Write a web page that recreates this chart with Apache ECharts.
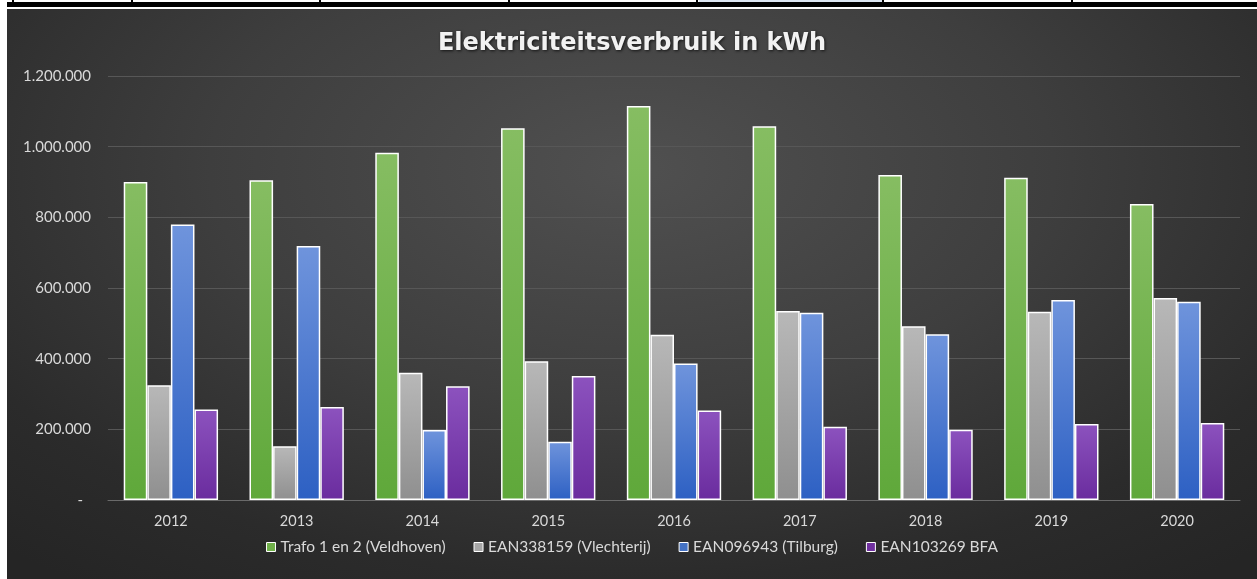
<!DOCTYPE html>
<html>
<head>
<meta charset="utf-8">
<script src="https://cdn.jsdelivr.net/npm/echarts@6/dist/echarts.min.js"></script>
<style>
  html, body { margin: 0; padding: 0; background: #ffffff; width: 1257px; height: 579px; overflow: hidden; position: relative; }
  #topbar { position: absolute; left: 7px; top: 2px; width: 1250px; height: 5px; background: #000; }
  .vsep { position: absolute; top: 0; width: 2px; height: 3px; background: #000; }
  #selcell { position: absolute; left: 699px; top: 0; width: 183px; height: 2px; background: #dce6f2; }
  #chart { position: absolute; left: 7px; top: 9px; width: 1250px; height: 570px;
    background: radial-gradient(ellipse 75% 90% at 50% 28%, #505050 0%, #3e3e3e 45%, #2b2b2b 80%, #252525 100%); }
</style>
</head>
<body>
<div id="selcell"></div>
<div class="vsep" style="left:12px"></div>
<div class="vsep" style="left:131px"></div>
<div class="vsep" style="left:319px"></div>
<div class="vsep" style="left:508px"></div>
<div class="vsep" style="left:696px"></div>
<div class="vsep" style="left:882px"></div>
<div class="vsep" style="left:1071px"></div>
<div id="topbar"></div>
<div id="chart"></div>
<script>
const title = 'Elektriciteitsverbruik in kWh';
const years = ['2012', '2013', '2014', '2015', '2016', '2017', '2018', '2019', '2020'];
const seriesNames = ['Trafo 1 en 2 (Veldhoven)', 'EAN338159 (Vlechterij)', 'EAN096943 (Tilburg)', 'EAN103269 BFA'];
const trafo = [900000, 905000, 983000, 1052000, 1115000, 1058000, 920000, 912000, 838000];
const vlechterij = [325000, 152000, 360000, 393000, 468000, 535000, 492000, 533000, 572000];
const tilburg = [780000, 719000, 198000, 165000, 386000, 530000, 469000, 566000, 561000];
const bfa = [256000, 263000, 322000, 351000, 253000, 207000, 199000, 215000, 218000];
const yTicks = [0, 200000, 400000, 600000, 800000, 1000000, 1200000];

const palette = [
  ['#86bd62', '#5fa83a'],
  ['#b8b8b8', '#8f8f8f'],
  ['#6f94dc', '#2d60c3'],
  ['#8c52be', '#6a2c9e']
];
const legendColors = ['#70b04a', '#a6a6a6', '#4472c4', '#7030a0'];
const allData = [trafo, vlechterij, tilburg, bfa];

function fmt(v) {
  if (v === 0) return '{dash|-}';
  return String(v).replace(/\B(?=(\d{3})+(?!\d))/g, '.');
}

const chart = echarts.init(document.getElementById('chart'), null, { renderer: 'canvas' });
chart.setOption({
  backgroundColor: 'transparent',
  animation: false,
  title: {
    text: title,
    left: 'center',
    top: 18,
    textStyle: {
      color: '#f2f2f2',
      fontFamily: 'DejaVu Sans',
      fontWeight: 'bold',
      fontSize: 24,
      textShadowColor: 'rgba(0,0,0,0.7)',
      textShadowBlur: 3,
      textShadowOffsetX: 1,
      textShadowOffsetY: 1
    }
  },
  legend: {
    bottom: 19,
    left: 'center',
    itemWidth: 9,
    itemHeight: 9,
    itemGap: 28,
    icon: 'rect',
    textStyle: { color: '#d9d9d9', fontFamily: 'Lato', fontSize: 15.5, padding: [0, 0, 0, 0] },
    data: seriesNames.map((n, i) => ({
      name: n,
      itemStyle: { color: legendColors[i], borderColor: '#ffffff', borderWidth: 1 }
    }))
  },
  grid: { left: 101, right: 17, top: 67, bottom: 79, containLabel: false },
  xAxis: {
    type: 'category',
    data: years,
    axisLine: { show: true, lineStyle: { color: '#6a6a6a', width: 1 } },
    axisTick: { show: false },
    axisLabel: { color: '#d9d9d9', fontFamily: 'Lato', fontSize: 14.5, margin: 14 },
    splitLine: { show: false }
  },
  yAxis: {
    type: 'value',
    min: yTicks[0],
    max: yTicks[yTicks.length - 1],
    interval: yTicks[1] - yTicks[0],
    axisLine: { show: false },
    axisTick: { show: false },
    axisLabel: {
      color: '#d9d9d9', fontFamily: 'Lato', fontSize: 15, margin: 17, formatter: fmt,
      rich: { dash: { color: '#d9d9d9', fontFamily: 'Lato', fontSize: 15, padding: [0, 8, 0, 0] } }
    },
    splitLine: { lineStyle: { color: '#575757', width: 1 } }
  },
  series: seriesNames.map((n, i) => ({
    name: n,
    type: 'bar',
    data: allData[i],
    barGap: '0%',
    barCategoryGap: '25%',
    itemStyle: {
      color: new echarts.graphic.LinearGradient(0, 0, 0, 1, [
        { offset: 0, color: palette[i][0] },
        { offset: 1, color: palette[i][1] }
      ]),
      borderColor: '#ffffff',
      borderWidth: 1.5
    }
  }))
});
</script>
</body>
</html>
